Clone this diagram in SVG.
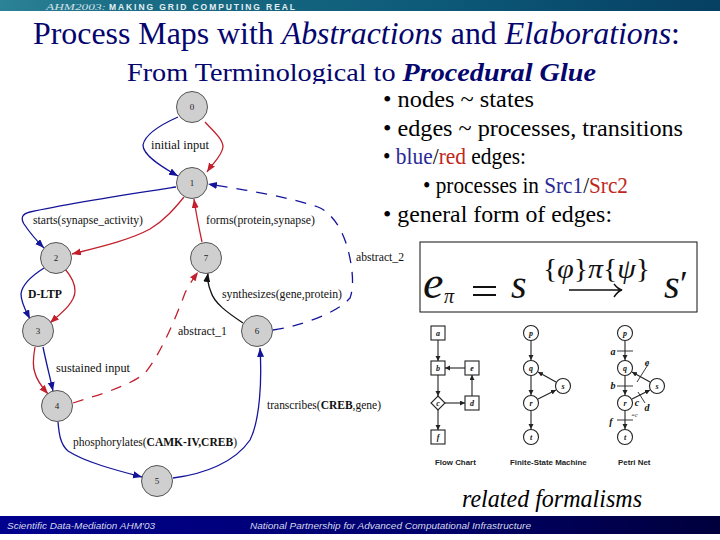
<svg xmlns="http://www.w3.org/2000/svg" width="720" height="540" viewBox="0 0 720 540">
<style>
text{font-family:"Liberation Serif","Times New Roman",serif}
.title{fill:#05056e}
.bul{font-size:23px;fill:#000}
.lab{font-size:11.5px;fill:#111}
.num{font-size:9px;text-anchor:middle;fill:#222}
.node{fill:#cfcfcf;stroke:#555;stroke-width:1}
.e{fill:none;stroke-width:1.3}
.blue{stroke:#14149a;marker-end:url(#ab)}
.red{stroke:#c2202c;marker-end:url(#ar)}
.blk{stroke:#111;marker-end:url(#ak)}
.dash{stroke-dasharray:11 9}
.sm{fill:#fff;stroke:#222;stroke-width:1.1}
.ln{fill:none;stroke:#222;stroke-width:1.1;marker-end:url(#as)}
.bar{stroke:#222;stroke-width:.9}
.si{font-size:8px;font-style:italic;font-weight:bold;text-anchor:middle;fill:#111}
.pl{font-size:10px}
.cap{font-family:"Liberation Sans",Arial,sans-serif;font-size:7.9px;font-weight:bold;fill:#222}
.foot{font-family:"Liberation Sans",Arial,sans-serif;font-size:9.5px;font-style:italic;fill:#d5d8ea}
.eq{font-style:italic;fill:#111}
</style>
<defs>
<linearGradient id="top" x1="0" x2="1" y1="0" y2="0"><stop offset="0" stop-color="#2c8296"/><stop offset=".15" stop-color="#1c6f86"/><stop offset=".6" stop-color="#0d5a78"/><stop offset="1" stop-color="#063f62"/></linearGradient>
<linearGradient id="bot" x1="0" x2="1" y1="0" y2="0"><stop offset="0" stop-color="#00008e"/><stop offset=".55" stop-color="#000070"/><stop offset="1" stop-color="#00003c"/></linearGradient>
<marker id="ab" markerWidth="10" markerHeight="8" refX="9" refY="3.5" orient="auto" markerUnits="userSpaceOnUse"><path d="M0 0L9 3.5L0 7z" fill="#14149a"/></marker>
<marker id="ar" markerWidth="10" markerHeight="8" refX="9" refY="3.5" orient="auto" markerUnits="userSpaceOnUse"><path d="M0 0L9 3.5L0 7z" fill="#c2202c"/></marker>
<marker id="ak" markerWidth="10" markerHeight="8" refX="9" refY="3.5" orient="auto" markerUnits="userSpaceOnUse"><path d="M0 0L9 3.5L0 7z" fill="#111"/></marker>
<marker id="as" markerWidth="6" markerHeight="6" refX="5" refY="2.5" orient="auto" markerUnits="userSpaceOnUse"><path d="M0 0L5 2.5L0 5z" fill="#222"/></marker>
</defs>
<rect width="720" height="540" fill="#fff"/>
<rect width="720" height="11" fill="url(#top)"/>
<text x="46" y="9.5" font-size="9" font-style="italic" fill="#cfe0e8" textLength="60" lengthAdjust="spacingAndGlyphs">AHM2003:</text>
<text x="109" y="9.5" style="font-family:'Liberation Sans',Arial,sans-serif" font-size="8.5" font-weight="bold" fill="#e4eef2" textLength="186" lengthAdjust="spacing">MAKING GRID COMPUTING REAL</text>
<text class="title" x="33" y="44" font-size="30.5" textLength="647" lengthAdjust="spacingAndGlyphs">Process Maps with <tspan font-style="italic">Abstractions</tspan> and <tspan font-style="italic">Elaborations</tspan>:</text>
<text class="title" x="127" y="81" font-size="25.5" textLength="469" lengthAdjust="spacingAndGlyphs">From Terminological to <tspan font-style="italic" font-weight="bold">Procedural Glue</tspan></text>
<rect x="110" y="84" width="260" height="12" fill="#fff"/>
<g id="connectors">
<path class="e blue" d="M178 117C160 125 145 134 143 145C143 155 160 166 178 176"/>
<path class="e red" d="M205 122C213 131 223 139 223 147C222 156 213 163 207 172"/>
<path class="e blue" d="M176 187C130 194 70 203 30 212C21 214 21 219 24 224C30 233 36 240 44 248"/>
<path class="e red" d="M184 197C175 208 165 220 150 229C130 240 100 247 72 254"/>
<path class="e blue" d="M44 268C33 275 22 284 21 294C21 303 26 311 30 319"/>
<path class="e red" d="M65 269C71 276 75 284 75 291C75 303 60 314 50 323"/>
<path class="e red" d="M35 347C33 358 33 368 35 373C37 381 42 387 48 394"/>
<path class="e blue" d="M43 347C46 362 50 377 53 391"/>
<path class="e blue" d="M58 422C59 433 60 444 68 451C85 462 115 470 142 477"/>
<path class="e blue" d="M173 478C205 474 235 462 250 440C260 420 262 380 260 348"/>
<path class="e blk" d="M243 323C228 313 214 303 211 292C208 285 207 280 208 273"/>
<path class="e red" d="M202 242C199 228 196 213 194 199"/>
<path class="e red dash" d="M73 403C95 396 130 386 145 373C160 355 175 320 185 293C189 285 193 279 198 272"/>
<path class="e blue dash" d="M273 330C295 327 335 315 350 298C355 285 352 262 346 243C340 225 330 212 318 207C285 196 245 190 208 184"/>
</g>
<g id="n0"><circle class="node" cx="192" cy="107" r="15.5"/><text class="num" x="192" y="110">0</text></g>
<g id="n1"><circle class="node" cx="192" cy="183" r="15.5"/><text class="num" x="192" y="186">1</text></g>
<g id="n2"><circle class="node" cx="56" cy="258" r="15.5"/><text class="num" x="56" y="261">2</text></g>
<g id="n3"><circle class="node" cx="38" cy="331" r="15.5"/><text class="num" x="38" y="334">3</text></g>
<g id="n4"><circle class="node" cx="57" cy="406" r="15.5"/><text class="num" x="57" y="409">4</text></g>
<g id="n5"><circle class="node" cx="157" cy="481" r="15.5"/><text class="num" x="157" y="484">5</text></g>
<g id="n6"><circle class="node" cx="257" cy="331" r="15.5"/><text class="num" x="257" y="334">6</text></g>
<g id="n7"><circle class="node" cx="206" cy="258" r="15.5"/><text class="num" x="206" y="261">7</text></g>
<g id="edge-labels">
<text class="lab" x="151" y="149" textLength="58" lengthAdjust="spacingAndGlyphs">initial input</text>
<text class="lab" x="33" y="224" textLength="110" lengthAdjust="spacingAndGlyphs">starts(synapse_activity)</text>
<text class="lab" x="206" y="224" textLength="109" lengthAdjust="spacingAndGlyphs">forms(protein,synapse)</text>
<text class="lab" x="356" y="261" textLength="48" lengthAdjust="spacingAndGlyphs">abstract_2</text>
<text class="lab" x="28" y="298" textLength="34" lengthAdjust="spacingAndGlyphs" font-weight="bold">D-LTP</text>
<text class="lab" x="222" y="298" textLength="120" lengthAdjust="spacingAndGlyphs">synthesizes(gene,protein)</text>
<text class="lab" x="178" y="335" textLength="49" lengthAdjust="spacingAndGlyphs">abstract_1</text>
<text class="lab" x="56" y="372" textLength="74" lengthAdjust="spacingAndGlyphs">sustained input</text>
<text class="lab" x="267" y="409" textLength="114" lengthAdjust="spacingAndGlyphs">transcribes(<tspan font-weight="bold">CREB</tspan>,gene)</text>
<text class="lab" x="73" y="446" textLength="164" lengthAdjust="spacingAndGlyphs">phosphorylates(<tspan font-weight="bold">CAMK-IV,CREB</tspan>)</text>
</g>
<g id="bullets">
<text class="bul" x="383" y="107" textLength="151" lengthAdjust="spacingAndGlyphs">• nodes ~ states</text>
<text class="bul" x="383" y="136" textLength="300" lengthAdjust="spacingAndGlyphs">• edges ~ processes, transitions</text>
<text class="bul" x="383" y="164" textLength="143" lengthAdjust="spacingAndGlyphs">• <tspan fill="#2a2a96">blue</tspan>/<tspan fill="#c0281c">red</tspan> edges:</text>
<text class="bul" x="423" y="193" textLength="205" lengthAdjust="spacingAndGlyphs">• processes in <tspan fill="#2a2a96">Src1</tspan>/<tspan fill="#c0281c">Src2</tspan></text>
<text class="bul" x="383" y="222" textLength="229" lengthAdjust="spacingAndGlyphs">• general form of edges:</text>
</g>
<g id="equation">
<rect x="420" y="242" width="277" height="70" fill="#fff" stroke="#111" stroke-width="1"/>
<text class="eq" x="423" y="298" font-size="46">e</text>
<text class="eq" x="444" y="303" font-size="20">π</text>
<path d="M473 287H496M473 295H496" stroke="#111" stroke-width="2" fill="none"/>
<text class="eq" x="511" y="298" font-size="40">s</text>
<text x="543" y="278" font-size="27" fill="#111" textLength="107" lengthAdjust="spacingAndGlyphs">{<tspan font-style="italic">φ</tspan>}<tspan font-style="italic">π</tspan>{<tspan font-style="italic">ψ</tspan>}</text>
<path d="M569 290H621M614 284Q618 289 622 290Q618 291 614 297" stroke="#111" stroke-width="1.4" fill="none"/>
<text class="eq" x="664" y="298" font-size="40">s</text>
<text x="680" y="296" font-size="36" fill="#111">′</text>
</g>
<g id="flowchart">
<path class="ln" d="M438 340V361"/><path class="ln" d="M438 375V396"/><path class="ln" d="M438 410V430"/><path class="ln" d="M445 403H465"/><path class="ln" d="M472 396V375"/><path class="ln" d="M465 368H445"/>
<rect class="sm" x="431" y="326" width="14" height="14"/><rect class="sm" x="431" y="361" width="14" height="14"/><rect class="sm" x="465" y="361" width="14" height="14"/><rect class="sm" x="465" y="396" width="14" height="14"/><rect class="sm" x="431" y="430" width="14" height="14"/>
<path class="sm" d="M438 396L445 403L438 410L431 403z"/>
<text class="si" x="438" y="336">a</text><text class="si" x="438" y="371">b</text><text class="si" x="472" y="371">e</text><text class="si" x="438" y="406">c</text><text class="si" x="472" y="406">d</text><text class="si" x="438" y="440">f</text>
<text class="cap" x="435" y="465">Flow Chart</text>
</g>
<g id="fsm">
<path class="ln" d="M531 341V360"/><path class="ln" d="M531 376V395"/><path class="ln" d="M531 411V429"/><path class="ln" d="M556 382L538 372"/><path class="ln" d="M538 399L556 390"/>
<circle class="sm" cx="531" cy="333" r="7.5"/><circle class="sm" cx="531" cy="368" r="7.5"/><circle class="sm" cx="531" cy="403" r="7.5"/><circle class="sm" cx="531" cy="437" r="7.5"/><circle class="sm" cx="563" cy="386" r="7.5"/>
<text class="si" x="531" y="336">p</text><text class="si" x="531" y="371">q</text><text class="si" x="531" y="406">r</text><text class="si" x="531" y="440">t</text><text class="si" x="563" y="389">s</text>
<text class="cap" x="510" y="465">Finite-State Machine</text>
</g>
<g id="petri">
<path class="ln" d="M625 341V360"/><path class="ln" d="M625 376V395"/><path class="ln" d="M625 411V429"/><path class="ln" d="M650 382L632 372"/><path class="ln" d="M632 399L650 390"/>
<path class="bar" d="M617 351H633M617 386H633M617 420H633M637 382L649 363M638 392L645 403"/>
<circle class="sm" cx="625" cy="333" r="7.5"/><circle class="sm" cx="625" cy="368" r="7.5"/><circle class="sm" cx="625" cy="403" r="7.5"/><circle class="sm" cx="625" cy="437" r="7.5"/><circle class="sm" cx="657" cy="386" r="7.5"/>
<text class="si" x="625" y="336">p</text><text class="si" x="625" y="371">q</text><text class="si" x="625" y="406">r</text><text class="si" x="625" y="440">t</text><text class="si" x="657" y="389">s</text>
<text class="si pl" x="613" y="355">a</text><text class="si pl" x="613" y="389">b</text><text class="si pl" x="611" y="425">f</text><text class="si pl" x="647" y="366">e</text><text class="si pl" x="637" y="406">c</text><text class="si pl" x="647" y="411">d</text>
<text x="631" y="417" font-size="6" font-style="italic" fill="#222">=c</text>
<text class="cap" x="618" y="465">Petri Net</text>
</g>
<text x="462" y="507" font-size="25" font-style="italic" fill="#000" textLength="180" lengthAdjust="spacingAndGlyphs">related formalisms</text>
<rect y="516" width="720" height="18" fill="url(#bot)"/>
<text class="foot" x="7" y="529" textLength="148" lengthAdjust="spacingAndGlyphs">Scientific Data-Mediation AHM'03</text>
<text class="foot" x="250" y="529" textLength="281" lengthAdjust="spacingAndGlyphs">National Partnership for Advanced Computational Infrastructure</text>
</svg>
